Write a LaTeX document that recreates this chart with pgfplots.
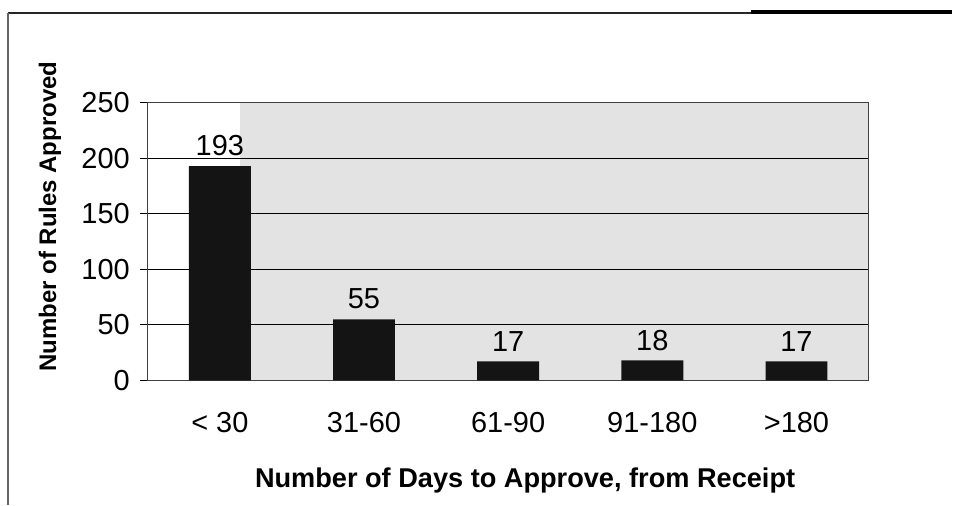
\documentclass[border=0pt]{standalone}
\usepackage{fontspec}
\setmainfont{Liberation Sans}
\usepackage{pgfplots}
\pgfplotsset{compat=1.18}
\begin{document}
\begin{tikzpicture}
\begin{axis}[
  at={(74pt,-190.5pt)}, anchor=south west,
  scale only axis, width=361pt, height=139pt,
  set layers,
  ybar, bar width=31pt,
  xmin=-0.5, xmax=4.5, ymin=0, ymax=250,
  xtick={0,1,2,3,4},
  xticklabels={{< 30},{31-60},{61-90},{91-180},{>180}},
  ytick={0,50,100,150,200,250},
  ymajorgrids, major grid style={black, line width=0.5pt},
  axis line style={black!75, line width=0.6pt},
  ytick pos=left, tick align=outside, major tick length=4pt,
  xtick style={draw=none},
  ytick style={black, line width=0.5pt},
  /pgf/number format/assume math mode=true,
  tick label style={font=\fontsize{14.5}{16}\selectfont},
  xticklabel style={yshift=-8.5pt},
  yticklabel style={xshift=-1.5pt},
  nodes near coords,
  every node near coord/.append style={font=\fontsize{14.5}{16}\selectfont, yshift=1.5pt},
  xlabel={Number of Days to Approve, from Receipt},
  ylabel={Number of Rules Approved},
  xlabel style={at={(axis description cs:0.5235,-0.36)}, anchor=center, font=\bfseries\fontsize{13.6}{16}\selectfont},
  ylabel style={at={(axis description cs:-0.1357,0.59)}, anchor=center, font=\bfseries\fontsize{12}{14}\selectfont},
]
\pgfplotsextra{%
\begin{pgfonlayer}{axis background}
\fill[black!11] (rel axis cs:0,0) rectangle (rel axis cs:1,1);
\fill[white] (rel axis cs:0,0) rectangle (axis cs:0.14,250);
\end{pgfonlayer}}
\addplot[fill=black!92, draw=none] coordinates {(0,193) (1,55) (2,17) (3,18) (4,17)};
\end{axis}
\draw[line width=1pt, black!85] (4pt,-6.3pt) -- (477pt,-6.3pt);
\draw[line width=1.6pt, black] (376pt,-6pt) -- (477pt,-6pt);
\draw[line width=0.7pt, black!60] (4pt,-6.3pt) -- (4pt,-253pt);
\path (0,0) rectangle (477pt,-253pt);
\end{tikzpicture}
\end{document}
